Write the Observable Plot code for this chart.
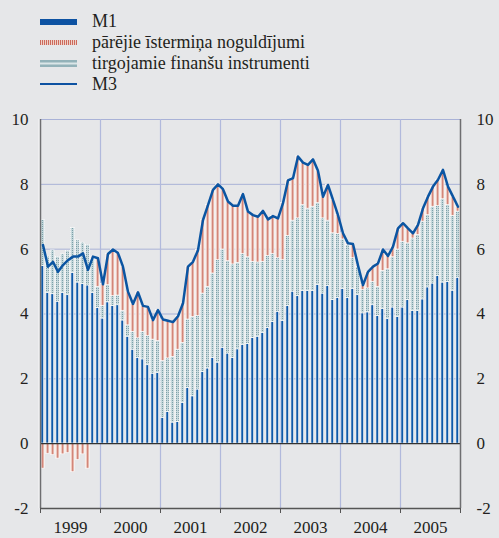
<!DOCTYPE html>
<html><head><meta charset="utf-8">
<script src="https://cdn.jsdelivr.net/npm/d3@7"></script>
<script src="https://cdn.jsdelivr.net/npm/@observablehq/plot@0.6"></script>
<style>
html,body{margin:0;padding:0;background:#e6e7e9;}
body{width:499px;height:538px;overflow:hidden;font-family:'Liberation Serif','Times New Roman',serif;}
#legend{display:block;}
#legend text{font-family:'Liberation Serif','Times New Roman',serif;font-size:18px;fill:#231f20;}
#chart svg{display:block;}
#chart svg text{font-family:'Liberation Serif','Times New Roman',serif !important;}
</style></head><body>
<svg id="legend" width="499" height="100"></svg>
<div id="chart"></div>
<script>
// ---- data (annual growth contributions, %) ----
const years = ["1999", "2000", "2001", "2002", "2003", "2004", "2005"];
const seriesNames = ["M1", "pārējie īstermiņa noguldījumi", "tirgojamie finanšu instrumenti", "M3"];
const yTicks = [-2, 0, 2, 4, 6, 8, 10];

const m1 = [
  5.48, 4.65, 4.61, 4.38, 4.65, 4.58, 5.27, 4.97, 4.92, 4.88, 4.65, 4.19,
  3.86, 4.36, 4.25, 4.27, 3.80, 3.30, 2.90, 2.65, 2.60, 2.42, 2.16, 2.18,
  0.80, 0.98, 0.65, 0.67, 1.26, 1.72, 1.46, 1.67, 2.21, 2.32, 2.65, 2.50,
  2.96, 2.78, 2.65, 2.91, 3.04, 3.07, 3.26, 3.30, 3.42, 3.57, 3.75, 4.07,
  3.79, 4.25, 4.69, 4.55, 4.71, 4.71, 4.71, 4.90, 4.63, 4.87, 4.43, 4.50,
  4.77, 4.50, 4.77, 4.58, 4.02, 4.05, 4.27, 3.94, 4.15, 3.84, 4.20, 3.91,
  4.20, 4.43, 4.09, 4.09, 4.45, 4.82, 4.94, 5.17, 4.97, 4.99, 4.72, 5.12
];
const tirgojamie = [
  1.42, 1.12, 1.35, 1.38, 1.19, 1.37, 1.38, 1.30, 1.28, 1.25, 1.05, 0.65,
  0.39, 0.53, 0.30, 0.30, 0.30, 0.35, 0.55, 0.60, 0.85, 0.90, 1.05, 0.99,
  1.75, 1.65, 2.03, 2.23, 1.85, 2.11, 2.45, 2.27, 2.42, 2.52, 2.60, 3.16,
  3.03, 2.85, 2.88, 2.67, 2.81, 2.68, 2.35, 2.29, 2.19, 2.22, 2.10, 1.65,
  1.87, 2.16, 2.19, 2.40, 2.65, 2.54, 2.60, 2.52, 2.32, 2.01, 2.06, 1.97,
  1.53, 1.63, 0.95, 0.87, 0.72, 0.74, 0.72, 0.90, 1.18, 1.54, 1.55, 2.08,
  2.03, 1.75, 2.24, 2.35, 2.40, 2.23, 2.37, 2.16, 2.57, 2.37, 2.31, 2.04
];
const parejie = [
  -0.77, -0.31, -0.35, -0.46, -0.33, -0.29, -0.88, -0.50, -0.33, -0.77, 0.07, 0.88,
  0.67, 0.96, 1.44, 1.31, 1.36, 1.04, 0.86, 1.42, 0.80, 0.90, 0.60, 0.95,
  1.28, 1.16, 1.07, 1.03, 1.22, 1.63, 1.70, 2.03, 2.27, 2.52, 2.58, 2.34,
  1.86, 1.84, 1.81, 1.76, 1.85, 1.41, 1.44, 1.41, 1.57, 1.13, 1.17, 1.23,
  1.76, 1.71, 1.31, 1.91, 1.31, 1.35, 1.46, 1.00, 0.67, 1.10, 1.03, 0.58,
  0.19, 0.05, 0.44, 0.05, 0.15, 0.51, 0.47, 0.72, 0.66, 0.41, 0.33, 0.65,
  0.57, 0.46, 0.16, 0.31, 0.41, 0.57, 0.62, 0.81, 0.91, 0.57, 0.59, 0.15
];
const m3 = [
  6.13, 5.46, 5.61, 5.30, 5.51, 5.66, 5.77, 5.77, 5.87, 5.36, 5.77, 5.72,
  4.92, 5.85, 5.99, 5.88, 5.46, 4.69, 4.31, 4.67, 4.25, 4.22, 3.81, 4.12,
  3.83, 3.79, 3.75, 3.93, 4.33, 5.46, 5.61, 5.97, 6.90, 7.36, 7.83, 8.00,
  7.85, 7.47, 7.34, 7.34, 7.70, 7.16, 7.05, 7.00, 7.18, 6.92, 7.02, 6.95,
  7.42, 8.12, 8.19, 8.86, 8.67, 8.60, 8.77, 8.42, 7.62, 7.98, 7.52, 7.05,
  6.49, 6.18, 6.16, 5.50, 4.89, 5.30, 5.46, 5.56, 5.99, 5.79, 6.08, 6.64,
  6.80, 6.64, 6.49, 6.75, 7.26, 7.62, 7.93, 8.14, 8.45, 7.93, 7.62, 7.31
];

// ---- table built from the arrays (stacked segments) ----
const rows = m1.map((v, i) => {
  const t = tirgojamie[i], p = parejie[i];
  return {
    i,
    m1Lo: 0, m1Hi: v,
    tLo: v, tHi: v + t,
    pLo: p >= 0 ? v + t : p,
    pHi: p >= 0 ? v + t + p : 0,
    m3: m3[i]
  };
});
const nMonths = rows.length;
const yearBounds = d3.range(0, nMonths + 1, 12);
const yearMids = years.map((y, k) => k * 12 + 6);

const BLUE = "#0f59a8";
const LINE = "#0b55a2";
const GRID = "#a9b2d7";
const SERIF = "'Liberation Serif', 'Times New Roman', serif";

// ---- legend ----
const leg = d3.select("#legend");
const ldefs = leg.append("defs");
const lp = ldefs.append("pattern").attr("id", "legRed").attr("patternUnits", "userSpaceOnUse")
  .attr("width", 2).attr("height", 6);
lp.append("rect").attr("width", 2).attr("height", 6).attr("fill", "#f2dcd3");
lp.append("rect").attr("width", 1.1).attr("height", 6).attr("fill", "#cc6a5c");
const legY = [27, 48, 69, 90];
leg.append("rect").attr("x", 40).attr("y", 19).attr("width", 37).attr("height", 6).attr("fill", "#0d52a2");
leg.append("rect").attr("x", 40).attr("y", 40).attr("width", 37).attr("height", 5).attr("fill", "url(#legRed)");
leg.append("rect").attr("x", 40).attr("y", 60).attr("width", 37).attr("height", 7).attr("fill", "#93b2b9");
leg.append("rect").attr("x", 40).attr("y", 62.5).attr("width", 37).attr("height", 2).attr("fill", "#dbe6e8");
leg.append("line").attr("x1", 40).attr("x2", 77).attr("y1", 84).attr("y2", 84).attr("stroke", "#0d52a2").attr("stroke-width", 2);
seriesNames.forEach((s, k) => {
  leg.append("text").attr("x", 92).attr("y", legY[k]).text(s);
});

// ---- chart ----
const chart = Plot.plot({
  width: 499,
  height: 438,
  marginTop: 19,
  marginBottom: 30,
  marginLeft: 40,
  marginRight: 39,
  style: {fontFamily: SERIF, fontSize: "17px", color: "#231f20", background: "#e6e7e9", overflow: "visible"},
  x: {type: "linear", domain: [0, nMonths]},
  y: {domain: [-2, 10]},
  marks: [
    // horizontal grid
    Plot.ruleY(yTicks.filter(d => d > 0), {stroke: GRID, strokeWidth: 1}),
    // year gridlines
    Plot.ruleX(yearBounds.slice(1, -1), {y1: -2, y2: 10, stroke: "#b1b9dc", strokeWidth: 1.2}),
    // M1 bars
    Plot.rectY(rows, {x1: d => d.i, x2: d => d.i + 1, y1: "m1Lo", y2: "m1Hi",
      fill: BLUE, stroke: "#ffffff", strokeWidth: 0.7, insetLeft: 0.9, insetRight: 1.3}),
    // tirgojamie finanšu instrumenti
    Plot.rectY(rows, {x1: d => d.i, x2: d => d.i + 1, y1: "tLo", y2: "tHi",
      fill: "url(#tealPat)", stroke: "#ffffff", strokeWidth: 0.6, insetLeft: 0.4, insetRight: 0.8}),
    // pārējie īstermiņa noguldījumi
    Plot.rectY(rows, {x1: d => d.i, x2: d => d.i + 1, y1: "pLo", y2: "pHi",
      fill: "url(#redPat)", stroke: "#ffffff", strokeWidth: 0.6, insetLeft: 0.4, insetRight: 0.8}),
    // zero line
    Plot.ruleY([0], {stroke: "#333333", strokeWidth: 1.4}),
    // frame sides
    Plot.ruleX([0], {y1: -2, y2: 10, stroke: "#ffffff", strokeWidth: 1, dx: -1.3}),
    Plot.ruleX([0, nMonths], {y1: -2, y2: 10, stroke: "#6e6e70", strokeWidth: 1.5}),
    // bottom line
    Plot.ruleY([-2], {stroke: "#555555", strokeWidth: 1.3}),
    // M3 line
    Plot.line(rows, {x: d => d.i + 0.5, y: "m3", stroke: LINE, strokeWidth: 2.5, strokeLinejoin: "round"}),
    // axes
    Plot.axisY(yTicks, {anchor: "left", tickSize: 0, tickPadding: 12, tickFormat: d => String(d), label: null, fontFamily: SERIF}),
    Plot.axisY(yTicks, {anchor: "right", tickSize: 0, tickPadding: 16, tickFormat: d => String(d), label: null, textAnchor: "start", fontFamily: SERIF}),
    Plot.axisX(yearBounds, {tickSize: 5, tickFormat: () => "", label: null, stroke: "#555555"}),
    Plot.axisX(yearMids, {tickSize: 0, tickPadding: 12, tickFormat: d => years[(d - 6) / 12], label: null, fontFamily: SERIF})
  ]
});

// patterns for the textured segments
const defs = d3.select(chart).insert("defs", ":first-child");
const tp = defs.append("pattern").attr("id", "tealPat").attr("patternUnits", "userSpaceOnUse")
  .attr("width", 2).attr("height", 2);
tp.append("rect").attr("width", 2).attr("height", 2).attr("fill", "#c6d8dc");
tp.append("rect").attr("width", 1).attr("height", 1).attr("fill", "#7b9fa7");
const rp = defs.append("pattern").attr("id", "redPat").attr("patternUnits", "userSpaceOnUse")
  .attr("x", 40).attr("width", 5).attr("height", 4);
rp.append("rect").attr("width", 5).attr("height", 4).attr("fill", "#edc9bf");
rp.append("rect").attr("x", 2.3).attr("width", 0.8).attr("height", 4).attr("fill", "#c8685b");
rp.append("rect").attr("x", 3.1).attr("width", 0.6).attr("height", 4).attr("fill", "#e0a699");

document.getElementById("chart").appendChild(chart);
</script>
</body></html>
